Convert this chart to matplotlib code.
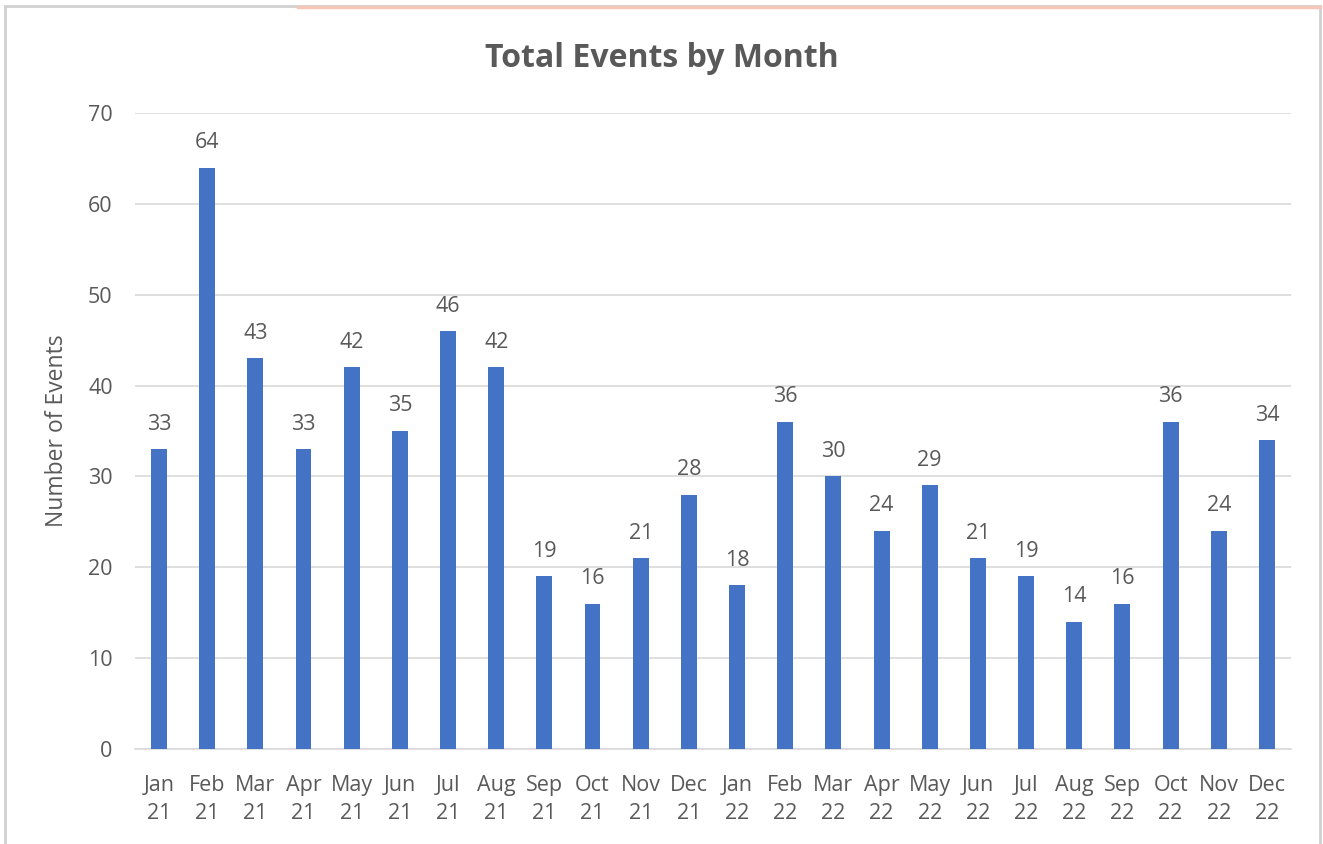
import matplotlib.pyplot as plt
from matplotlib.patches import Rectangle
from matplotlib.lines import Line2D

months = ['Jan', 'Feb', 'Mar', 'Apr', 'May', 'Jun',
          'Jul', 'Aug', 'Sep', 'Oct', 'Nov', 'Dec']
years = ['21', '22']
labels = [f'{m}\n{y}' for y in years for m in months]
events = [33, 64, 43, 33, 42, 35, 46, 42, 19, 16, 21, 28,
          18, 36, 30, 24, 29, 21, 19, 14, 16, 36, 24, 34]

plt.rcParams['font.family'] = ['Open Sans', 'DejaVu Sans']
txt = '#595959'
grid = '#d9d9d9'

fig = plt.figure(figsize=(13.23, 8.44), dpi=100)
ax = fig.add_axes([0.102, 0.1126, 0.8738, 0.7535])

x = list(range(len(events)))
ax.bar(x, events, width=0.33, color='#4472C4', zorder=3)
for xi, v in zip(x, events):
    ax.text(xi, v + 1.6, str(v), ha='center', va='bottom',
            fontsize=15.5, color=txt)

ax.set_xlim(-0.5, len(events) - 0.5)
ax.set_ylim(0, 70)
ax.set_yticks(range(0, 71, 10))
ax.set_xticks(x)
ax.set_xticklabels(labels, fontsize=15.5, color=txt, linespacing=1.45)
ax.tick_params(axis='y', labelsize=15.5, labelcolor=txt, length=0, pad=16)
ax.tick_params(axis='x', length=0, pad=18.5)
ax.grid(axis='y', color=grid, linewidth=1.2, zorder=0)
for s in ['top', 'right', 'left']:
    ax.spines[s].set_visible(False)
ax.spines['bottom'].set_color(grid)
ax.spines['bottom'].set_linewidth(1.2)

ax.set_ylabel('Number of Events', fontsize=16.5, color=txt, labelpad=14)
fig.text(0.5, 0.931, 'Total Events by Month', ha='center', va='center',
         fontsize=23, fontweight='bold', color=txt)

# chart frame
fig.patches.append(Rectangle((0.004, -0.01), 0.994, 1.003,
                             transform=fig.transFigure, fill=False,
                             edgecolor='#d0d0d0', linewidth=2))
fig.lines.append(Line2D([0.225, 0.998], [0.992, 0.992],
                        transform=fig.transFigure, color='#f4c7b8',
                        linewidth=2.5))

fig.savefig('out.png', dpi=100)
